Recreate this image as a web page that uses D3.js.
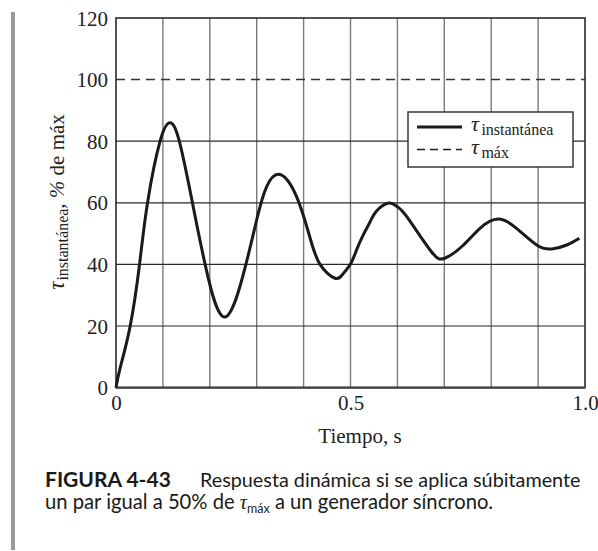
<!DOCTYPE html>
<html>
<head>
<meta charset="utf-8">
<script src="https://cdn.jsdelivr.net/npm/d3@7"></script>
<style>
  body { margin: 0; background: #fff; }
  svg { display: block; }
  .tick text { font-family: "Liberation Serif", serif; font-size: 21px; fill: #222; }
</style>
</head>
<body>
<svg id="chart" width="598" height="551"></svg>
<script>
// curve (time in s, torque in % of max)
const timeS = [0, 0.009, 0.03, 0.05, 0.067, 0.094, 0.115, 0.135, 0.163, 0.19, 0.232, 0.277, 0.3, 0.321,
    0.35, 0.385, 0.414, 0.435, 0.467, 0.485, 0.5, 0.513, 0.527, 0.542, 0.556, 0.582, 0.6, 0.62,
    0.67, 0.701, 0.741, 0.776, 0.815, 0.854, 0.897, 0.929, 0.961, 0.988];
const torquePct = [0, 6.5, 19.8, 39.8, 59.8, 80, 86, 80, 60, 40, 22.9, 40, 54.5, 65.2,
    69.2, 62, 48.5, 40, 35.5, 37.1, 40.1, 44.7, 49.5, 53.9, 57.4, 59.9, 58.7, 55.5,
    44.6, 42, 46.3, 51.7, 54.7, 51.7, 46.3, 45, 46.3, 48.5];
const maxTorque = 100;

const yTicks = [0, 20, 40, 60, 80, 100, 120];
const xGrid = [0.1, 0.2, 0.3, 0.4, 0.5, 0.6, 0.7, 0.8, 0.9];
const xTicks = [0, 0.5, 1.0];
const xTickLabels = ["0", "0.5", "1.0"];

const margin = {top: 18, right: 13, bottom: 163.4, left: 116};
const width = 598 - margin.left - margin.right;
const height = 551 - margin.top - margin.bottom;

const svg = d3.select("#chart");

// grey bar on the left of the page
svg.append("rect")
    .attr("x", 11).attr("y", 12)
    .attr("width", 4).attr("height", 538)
    .attr("fill", "#9a9a9a");

const chart = svg.append("g")
    .attr("transform", `translate(${margin.left},${margin.top})`);

const x = d3.scaleLinear().domain([0, 1]).range([0, width]);
const y = d3.scaleLinear().domain([0, 120]).range([height, 0]);

// grid
chart.selectAll(".vgrid")
    .data(xGrid)
    .join("line")
    .attr("x1", d => x(d)).attr("x2", d => x(d))
    .attr("y1", 0).attr("y2", height)
    .attr("stroke", "#7a7a7a").attr("stroke-width", 1.4);

chart.selectAll(".hgrid")
    .data(yTicks.filter(d => d > 0 && d < 120 && d !== maxTorque))
    .join("line")
    .attr("x1", 0).attr("x2", width)
    .attr("y1", d => y(d)).attr("y2", d => y(d))
    .attr("stroke", "#2a2a2a").attr("stroke-width", 1.2);

// max torque dashed line
chart.append("line")
    .attr("x1", 0).attr("x2", width)
    .attr("y1", y(maxTorque)).attr("y2", y(maxTorque))
    .attr("stroke", "#333").attr("stroke-width", 1.5)
    .attr("stroke-dasharray", "9,6");

// frame
chart.append("rect")
    .attr("width", width).attr("height", height)
    .attr("fill", "none")
    .attr("stroke", "#2a2a2a").attr("stroke-width", 1.6);
chart.append("line")
    .attr("x1", 0).attr("x2", width)
    .attr("y1", height).attr("y2", height)
    .attr("stroke", "#444").attr("stroke-width", 2.2);

// response curve
const line = d3.line()
    .x(d => x(d[0]))
    .y(d => y(d[1]))
    .curve(d3.curveNatural);

chart.append("path")
    .datum(d3.zip(timeS, torquePct))
    .attr("fill", "none")
    .attr("stroke", "#1a1a1a")
    .attr("stroke-width", 3)
    .attr("stroke-linejoin", "round")
    .attr("d", line);

// axes (labels only)
chart.append("g")
    .call(d3.axisLeft(y).tickValues(yTicks).tickSize(0).tickPadding(8))
    .call(g => g.select(".domain").remove())
    .selectAll("text").attr("dy", "0.34em");

chart.append("g")
    .attr("transform", `translate(0,${height})`)
    .call(d3.axisBottom(x).tickValues(xTicks).tickSize(0).tickPadding(7)
        .tickFormat((d, i) => xTickLabels[i]))
    .call(g => g.select(".domain").remove());

// axis titles
chart.append("text")
    .attr("x", 244).attr("y", height + 55)
    .attr("text-anchor", "middle")
    .attr("font-family", "Liberation Serif, serif")
    .attr("font-size", 21).attr("fill", "#222")
    .text("Tiempo, s");

const yTitle = chart.append("text")
    .attr("transform", `translate(${-52},${184}) rotate(-90)`)
    .attr("text-anchor", "middle")
    .attr("font-family", "Liberation Serif, serif")
    .attr("font-size", 21).attr("fill", "#222");
yTitle.append("tspan").attr("font-style", "italic").attr("font-size", 23).text("τ");
yTitle.append("tspan").attr("font-size", 16).attr("dx", 1).attr("dy", 4).text("instantánea");
yTitle.append("tspan").attr("dy", -4).text(", ");
yTitle.append("tspan").attr("font-style", "italic").text("%");
yTitle.append("tspan").text(" de máx");

// legend
const legend = chart.append("g")
    .attr("transform", `translate(${408 - margin.left},${112 - margin.top})`);

legend.append("rect")
    .attr("width", 165).attr("height", 55)
    .attr("fill", "#fff")
    .attr("stroke", "#2a2a2a").attr("stroke-width", 1.4);

const legendItems = [
    {name: "instantánea", dash: null, width: 3, y: 15},
    {name: "máx", dash: "8,5", width: 1.5, y: 37.5}
];

const item = legend.selectAll(".legend-item")
    .data(legendItems)
    .join("g")
    .attr("transform", d => `translate(0,${d.y})`);

item.append("line")
    .attr("x1", 9).attr("x2", 54)
    .attr("stroke", "#1a1a1a")
    .attr("stroke-width", d => d.width)
    .attr("stroke-dasharray", d => d.dash);

const legendText = item.append("text")
    .attr("x", 63).attr("y", 4)
    .attr("font-family", "Liberation Serif, serif")
    .attr("fill", "#222");
legendText.append("tspan").attr("font-style", "italic").attr("font-size", 22).text("τ");
legendText.append("tspan").attr("font-size", 16).attr("dx", 2.5).attr("dy", 4).text(d => d.name);

// caption
const caption = svg.append("g")
    .attr("font-family", "Lato, sans-serif")
    .attr("fill", "#1a1a1a");

caption.append("text")
    .attr("x", 45).attr("y", 487)
    .attr("font-size", 21).attr("font-weight", "bold")
    .text("FIGURA 4-43");
caption.append("text")
    .attr("x", 200).attr("y", 487)
    .attr("font-size", 19.8)
    .text("Respuesta dinámica si se aplica súbitamente");

const line2 = caption.append("text")
    .attr("x", 45).attr("y", 509)
    .attr("font-size", 20.2);
line2.append("tspan").text("un par igual a 50% de ");
line2.append("tspan").attr("font-family", "Liberation Serif, serif").attr("font-style", "italic").text("τ");
line2.append("tspan").attr("font-size", 12.5).attr("dy", 4).text("máx");
line2.append("tspan").attr("dy", -4).text(" a un generador síncrono.");
</script>
</body>
</html>
